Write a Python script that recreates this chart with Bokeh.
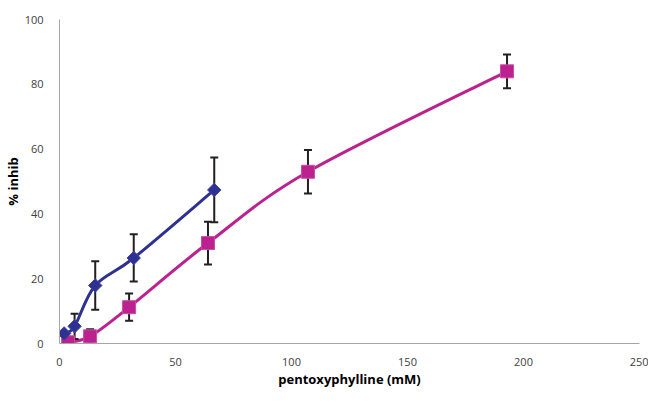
import numpy as np
from bokeh.plotting import figure
from bokeh.models import Range1d, FixedTicker, ColumnDataSource
from bokeh.embed import file_html
from bokeh.resources import INLINE

# ---- data ----
blue_x = [2.0, 6.5, 15.4, 32.0, 66.7]
blue_y = [3.1, 5.3, 17.9, 26.4, 47.4]
blue_err = [0.0, 3.9, 7.5, 7.3, 10.0]

mag_x = [3.7, 13.2, 30.0, 64.0, 107.1, 192.9]
mag_y = [0.4, 2.2, 11.2, 31.0, 53.0, 84.0]
mag_err = [0.0, 2.2, 4.2, 6.6, 6.7, 5.2]

x_ticks = [0, 50, 100, 150, 200, 250]
y_ticks = [0, 20, 40, 60, 80, 100]

BLUE = "#2E3192"
MAG = "#BB2290"
ERR = "#231F20"
AXIS = "#A6A6A6"
TXT = "#404040"
FONT = "Open Sans"


def smooth_segments(xs, ys, t=1.0 / 6.0):
    xs = np.asarray(xs, float)
    ys = np.asarray(ys, float)
    n = len(xs)
    seg = dict(x0=[], y0=[], x1=[], y1=[], cx0=[], cy0=[], cx1=[], cy1=[])
    for i in range(n - 1):
        i0 = max(i - 1, 0)
        i3 = min(i + 2, n - 1)
        seg["x0"].append(xs[i]); seg["y0"].append(ys[i])
        seg["x1"].append(xs[i + 1]); seg["y1"].append(ys[i + 1])
        seg["cx0"].append(xs[i] + (xs[i + 1] - xs[i0]) * t)
        seg["cy0"].append(ys[i] + (ys[i + 1] - ys[i0]) * t)
        seg["cx1"].append(xs[i + 1] - (xs[i3] - xs[i]) * t)
        seg["cy1"].append(ys[i + 1] - (ys[i3] - ys[i]) * t)
    return ColumnDataSource(seg)


p = figure(width=648, height=390, output_backend="svg", toolbar_location=None,
           x_range=Range1d(0, 250), y_range=Range1d(0, 100),
           min_border_left=58, min_border_right=9, min_border_top=19,
           min_border_bottom=45)
p.outline_line_color = None
p.xgrid.grid_line_color = None
p.ygrid.grid_line_color = None
p.background_fill_color = "white"
p.border_fill_color = "white"

for ax in (p.xaxis[0], p.yaxis[0]):
    ax.axis_line_color = AXIS
    ax.axis_line_width = 1
    ax.major_tick_line_color = None
    ax.minor_tick_line_color = None
    ax.major_label_text_font = FONT
    ax.major_label_text_font_size = "11px"
    ax.major_label_text_color = TXT
    ax.axis_label_text_font = FONT
    ax.axis_label_text_font_style = "bold"
    ax.axis_label_text_font_size = "13px"
    ax.axis_label_text_color = "#000000"

p.xaxis.ticker = FixedTicker(ticks=x_ticks)
p.yaxis.ticker = FixedTicker(ticks=y_ticks)
p.xaxis.major_label_standoff = 8
p.yaxis.major_label_standoff = 10
p.xaxis.axis_label = "pentoxyphylline (mM)"
p.yaxis.axis_label = "% inhib"
p.xaxis.axis_label_standoff = 1
p.yaxis.axis_label_standoff = 0

# smooth lines
p.bezier(x0="x0", y0="y0", x1="x1", y1="y1", cx0="cx0", cy0="cy0", cx1="cx1", cy1="cy1",
         source=smooth_segments(mag_x, mag_y), line_color=MAG, line_width=3)
p.bezier(x0="x0", y0="y0", x1="x1", y1="y1", cx0="cx0", cy0="cy0", cx1="cx1", cy1="cy1",
         source=smooth_segments(blue_x, blue_y), line_color=BLUE, line_width=3)

# error bars
for xs, ys, es in ((mag_x, mag_y, mag_err), (blue_x, blue_y, blue_err)):
    xa = [x for x, e in zip(xs, es) if e > 0]
    lo = [y - e for y, e in zip(ys, es) if e > 0]
    hi = [y + e for y, e in zip(ys, es) if e > 0]
    p.segment(x0=xa, y0=lo, x1=xa, y1=hi, line_color=ERR, line_width=2)
    p.scatter(x=xa + xa, y=lo + hi, marker="dash", size=8, line_color=ERR, line_width=2)

# markers
p.scatter(x=mag_x, y=mag_y, marker="square", size=13, fill_color=MAG,
          line_color="#C84FA3", line_width=1)
p.scatter(x=blue_x, y=blue_y, marker="square", size=9.5, angle=np.pi / 4,
          fill_color=BLUE, line_color="#3F44A0", line_width=1)

open("out.html", "w").write(file_html(p, INLINE))
